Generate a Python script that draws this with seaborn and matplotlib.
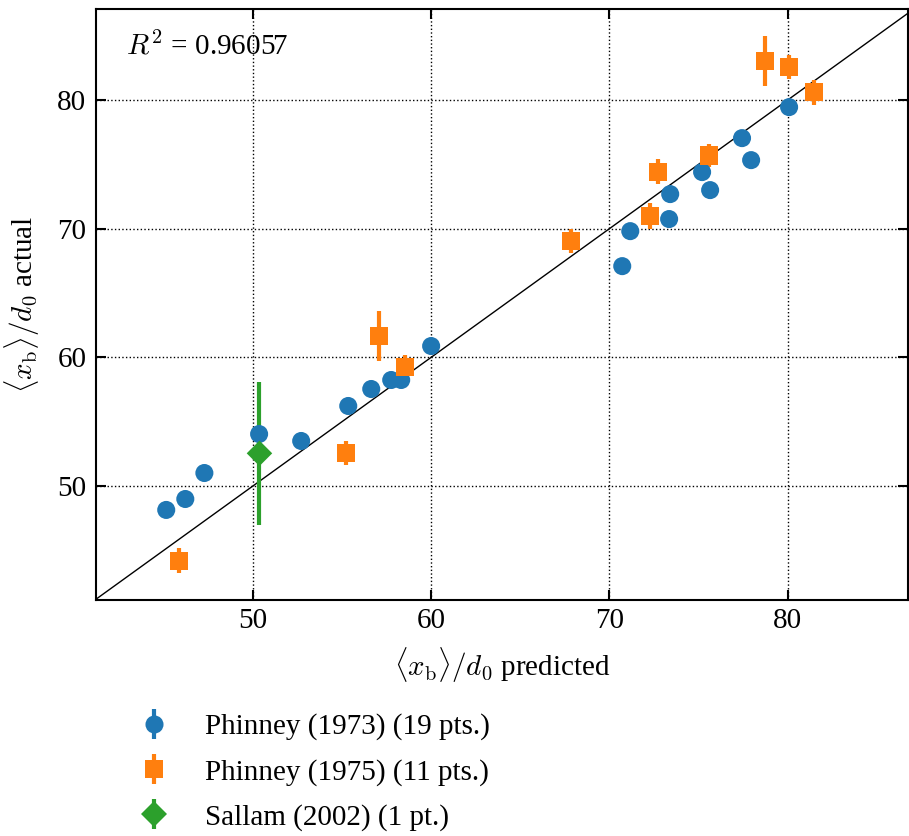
import numpy as np
import pandas as pd
import matplotlib
matplotlib.use("Agg")
import matplotlib.pyplot as plt
from matplotlib.lines import Line2D
import seaborn as sns

# ---- data ----
blue_x = [45.14, 46.21, 47.28, 50.35, 52.71, 55.35, 56.64, 57.76, 58.32, 60.0,
          70.72, 71.17, 73.35, 73.41, 75.2, 75.65, 77.44, 77.95, 80.08]
blue_y = [48.14, 48.99, 51.01, 54.04, 53.50, 56.22, 57.54, 58.24, 58.24, 60.88,
          67.09, 69.81, 70.75, 72.69, 74.40, 73.00, 77.04, 75.33, 79.45]
blue_err = [0.5] * 19

orange_x = [45.88, 55.23, 57.05, 58.52, 67.87, 72.26, 72.71, 75.57, 78.75, 80.10, 81.46]
orange_y = [44.20, 52.54, 61.66, 59.22, 69.01, 70.98, 74.42, 75.69, 83.02, 82.56, 80.59]
orange_err = [0.95, 0.93, 1.94, 0.93, 0.93, 0.98, 0.97, 0.93, 1.94, 0.95, 0.95]

green_x = [50.37]
green_y = [52.54]
green_err = [5.55]

labels = ["Phinney (1973) (19 pts.)", "Phinney (1975) (11 pts.)", "Sallam (2002) (1 pt.)"]
r2_text = r"$R^2$ = 0.96057"

colors = ["#1f77b4", "#ff7f0e", "#2ca02c"]
markers = ["o", "s", "D"]

# ---- style ----
sns.set_style("ticks")
plt.rcParams["font.family"] = ["Liberation Serif", "DejaVu Serif"]
plt.rcParams["mathtext.fontset"] = "cm"
plt.rcParams["font.size"] = 21
for k in ["text.color", "axes.labelcolor", "xtick.color", "ytick.color", "axes.edgecolor"]:
    plt.rcParams[k] = "black"

FS = 21

df = pd.DataFrame({
    "x": blue_x + orange_x + green_x,
    "y": blue_y + orange_y + green_y,
    "err": blue_err + orange_err + green_err,
    "src": [labels[0]] * len(blue_x) + [labels[1]] * len(orange_x) + [labels[2]] * len(green_x),
})

fig = plt.figure(figsize=(9.09, 8.36), dpi=100)
ax = fig.add_axes([0.1056, 0.2823, 0.8933, 0.7073])

ax.axline((50, 50), slope=1, color="black", lw=1.0, zorder=1)

for lab, c in zip(labels, colors):
    sub = df[df["src"] == lab]
    ax.errorbar(sub["x"], sub["y"], yerr=sub["err"], fmt="none", ecolor=c,
                elinewidth=3, capsize=0, zorder=2)

sns.scatterplot(data=df, x="x", y="y", hue="src", style="src",
                hue_order=labels, style_order=labels,
                palette=dict(zip(labels, colors)),
                markers=dict(zip(labels, markers)),
                s=169, linewidth=0, legend=False, ax=ax, zorder=3)

ax.set_xlim(41.2, 86.75)
ax.set_ylim(41.14, 87.1)
ax.set_xticks([50, 60, 70, 80])
ax.set_yticks([50, 60, 70, 80])
ax.grid(True, color="black", linestyle=":", linewidth=1.0)
ax.set_axisbelow(True)
ax.tick_params(direction="in", top=True, right=True, length=7, width=1.5,
               labelsize=FS, colors="black")
ax.tick_params(axis="x", pad=6)
ax.tick_params(axis="y", pad=7)
for sp in ax.spines.values():
    sp.set_linewidth(1.5)
    sp.set_color("black")

ax.set_xlabel(r"$\langle x_\mathrm{b}\rangle/d_0$ predicted", fontsize=FS)
ax.set_ylabel(r"$\langle x_\mathrm{b}\rangle/d_0$ actual", fontsize=FS)
ax.yaxis.set_label_coords(-0.066, 0.5)
ax.xaxis.set_label_coords(0.5, -0.077)

ax.text(0.037, 0.937, r2_text, transform=ax.transAxes, fontsize=FS,
        ha="left", va="center")

handles = []
for c, m in zip(colors, markers):
    bar = Line2D([], [], marker="|", markersize=21, markeredgewidth=3,
                 color=c, linestyle="")
    mk = Line2D([], [], marker=m, markersize=13, color=c, linestyle="",
                markeredgewidth=0)
    handles.append((bar, mk))

fig.legend(handles, labels, loc="upper left", bbox_to_anchor=(0.125, 0.178),
           frameon=False, fontsize=FS, handlelength=1.0, handletextpad=1.22,
           labelspacing=0.63)

fig.savefig("out.png", dpi=100)
